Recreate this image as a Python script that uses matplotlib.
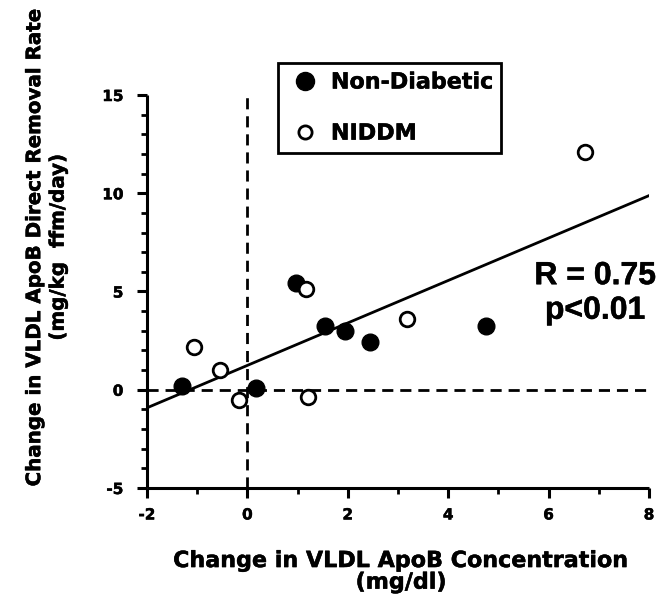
import numpy as np
import matplotlib
matplotlib.use("Agg")
import matplotlib.pyplot as plt
import matplotlib.patheffects as pe
from matplotlib.ticker import MultipleLocator

plt.rcParams['font.family'] = ['DejaVu Sans']
plt.rcParams['font.weight'] = 'bold'
plt.rcParams['axes.unicode_minus'] = False

# ─── Data ───
nondiab_x = [-1.30, 0.17, 0.96, 1.55, 1.95, 2.45, 4.75]
nondiab_y = [0.20, 0.08, 5.43, 3.22, 3.00, 2.44, 3.26]

niddm_x = [-1.07, -0.54, -0.16, 1.17, 1.21, 3.18, 6.73]
niddm_y = [2.17, 1.02, -0.51, 5.12, -0.39, 3.60, 12.10]

fit_intercept = 1.24
fit_slope = 1.08

x_range = [-2, 8]
y_range = [-5, 15]

heavy = [pe.withStroke(linewidth=0.35, foreground='black')]

fig = plt.figure(figsize=(6.63, 6.09), dpi=100)
ax = fig.add_axes([0.2217, 0.1987, 0.7572, 0.6453])

# reference lines
ax.plot(x_range, [0, 0], color='black', lw=2.0, ls=(0, (4, 2.5)), zorder=1)
ax.plot([0, 0], y_range, color='black', lw=2.0, ls=(0, (4, 2.5)), zorder=1)

# regression line
fit_x = np.array(x_range, dtype=float)
ax.plot(fit_x, fit_intercept + fit_slope * fit_x, color='black', lw=2.0, zorder=2)

ax.plot(nondiab_x, nondiab_y, 'o', ms=12, mfc='black', mec='black',
        label='Non-Diabetic', zorder=3)
ax.plot(niddm_x, niddm_y, 'o', ms=10.5, mfc='white', mec='black', mew=2.0,
        label='NIDDM', zorder=4)

ax.set_xlim(x_range)
ax.set_ylim(y_range)
ax.xaxis.set_major_locator(MultipleLocator(2))
ax.xaxis.set_minor_locator(MultipleLocator(1))
ax.yaxis.set_major_locator(MultipleLocator(5))
ax.yaxis.set_minor_locator(MultipleLocator(1))

for side in ['top', 'right']:
    ax.spines[side].set_visible(False)
for side in ['left', 'bottom']:
    ax.spines[side].set_linewidth(2.2)
    ax.spines[side].set_capstyle('butt')

ax.tick_params(which='major', length=7, width=2.2, labelsize=11)
ax.tick_params(axis='y', which='major', pad=10)
ax.tick_params(axis='x', which='major', pad=7)
ax.tick_params(which='minor', length=4, width=2.0)
for lbl in ax.get_xticklabels() + ax.get_yticklabels():
    lbl.set_fontweight('bold')
    lbl.set_path_effects(heavy)
ax.patch.set_visible(False)

leg = ax.legend(loc='upper left', bbox_to_anchor=(0.261, 1.081, 0.444, 0.0),
                mode='expand', fancybox=False, edgecolor='black',
                prop={'size': 16, 'weight': 'bold'}, handlelength=1.6,
                handletextpad=0.36, labelspacing=1.4, borderpad=0.42,
                borderaxespad=0, numpoints=1)
leg.get_frame().set_linewidth(2.0)
leg.get_frame().set_alpha(1)
handles = leg.legend_handles
handles[0].set_markersize(13)
handles[1].set_markersize(9.5)
for t in leg.get_texts():
    t.set_path_effects(heavy)

ax.text(0.893, 0.495, 'R = 0.75\np<0.01', transform=ax.transAxes,
        ha='center', va='center', fontsize=23, fontweight='bold',
        family='Liberation Sans', linespacing=1.2, path_effects=heavy)

fig.text(0.605, 0.061, 'Change in VLDL ApoB Concentration\n(mg/dl)',
         ha='center', va='center', fontsize=16, fontweight='bold',
         linespacing=1.1, path_effects=heavy)
fig.text(0.07, 0.594, 'Change in VLDL ApoB Direct Removal Rate\n(mg/kg  ffm/day)',
         ha='center', va='center', rotation=90, fontsize=14.3,
         fontweight='bold', linespacing=1.3, path_effects=heavy)

fig.savefig('out.png', dpi=100)
